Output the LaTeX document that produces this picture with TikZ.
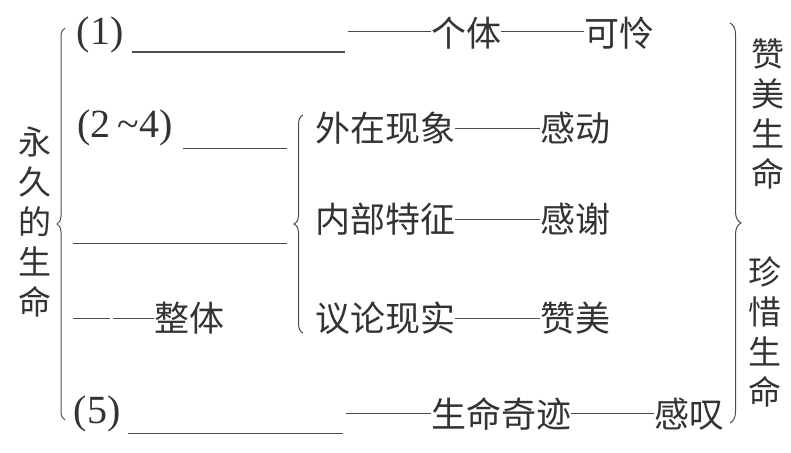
\documentclass[tikz,border=0pt]{standalone}
\usepackage{fontspec}
\setmainfont{Liberation Serif}
\newfontfamily\cjk{Noto Sans CJK SC}
\usetikzlibrary{decorations.pathreplacing}
\begin{document}
\begin{tikzpicture}[x=1pt,y=-1pt,
  lbl/.style={font=\cjk\fontsize{35}{35}\selectfont, inner sep=0pt, text=black!80},
  vlbl/.style={font=\cjk\fontsize{33}{40}\selectfont, inner sep=0pt, text=black!80, align=center},
  num/.style={font=\fontsize{40}{40}\selectfont, inner sep=0pt, text=black!80},
  rule/.style={draw=black!70, line width=1pt},
  bracestyle/.style={draw=black!70, line width=1pt, decorate, decoration={brace, amplitude=#1}}]
\useasboundingbox (0,0) rectangle (791,452);

% left vertical title
\node[vlbl] (title) at (35,222) {永\\久\\的\\生\\命};
% right vertical labels
\node[vlbl] (zm) at (768,114) {赞\\美\\生\\命};
\node[vlbl] (zx) at (765,332) {珍\\惜\\生\\命};

% braces
\draw[bracestyle=8] (65,420) -- (65,28);
\draw[bracestyle=9] (303,333) -- (303,115);
\draw[bracestyle=11] (730,23) -- (730,423);

% row 1
\node[num] (n1) at (100,35) {(1)};
\coordinate (u1a) at (132,52); \coordinate (u1b) at (345,52);
\draw[rule] (u1a) -- (u1b);
\coordinate (d1a) at (348,32);
\node[lbl] (gt) at (466,33) {个体};
\node[lbl] (kl) at (619,33) {可怜};
\draw[rule] (d1a) -- (gt.west |- d1a);
\draw[rule] (gt.east |- d1a) -- (kl.west |- d1a);

% row 2
\node[num] (n2) at (125,128) {(2\,\textasciitilde4)};
\coordinate (u2a) at (183,148); \coordinate (u2b) at (287,148);
\draw[rule] (u2a) -- (u2b);
\node[lbl] (wz) at (385,128) {外在现象};
\node[lbl] (gd) at (575,128) {感动};
\draw[rule] (wz.east) -- (gd.west);

\node[lbl] (nb) at (385,219) {内部特征};
\node[lbl] (gx) at (575,219) {感谢};
\draw[rule] (nb.east) -- (gx.west);

\coordinate (u3a) at (73,243); \coordinate (u3b) at (287,243);
\draw[rule] (u3a) -- (u3b);

\node[lbl] (yl) at (385,318) {议论现实};
\node[lbl] (zmb) at (575,318) {赞美};
\draw[rule] (yl.east) -- (zmb.west);

% row 4
\node[lbl] (zt) at (189,318) {整体};
\coordinate (d4a) at (73,318); \coordinate (d4b) at (110,318); \coordinate (d4c) at (113,318);
\draw[rule] (d4a) -- (d4b);
\draw[rule] (d4c) -- (zt.west);

% row 5
\node[num] (n5) at (97,414) {(5)};
\coordinate (u5a) at (128,433); \coordinate (u5b) at (343,433);
\draw[rule] (u5a) -- (u5b);
\coordinate (d5a) at (346,413);
\node[lbl] (sm) at (501,414) {生命奇迹};
\node[lbl] (gtn) at (689,414) {感叹};
\draw[rule] (d5a) -- (sm.west |- d5a);
\draw[rule] (sm.east |- d5a) -- (gtn.west |- d5a);
\end{tikzpicture}
\end{document}
